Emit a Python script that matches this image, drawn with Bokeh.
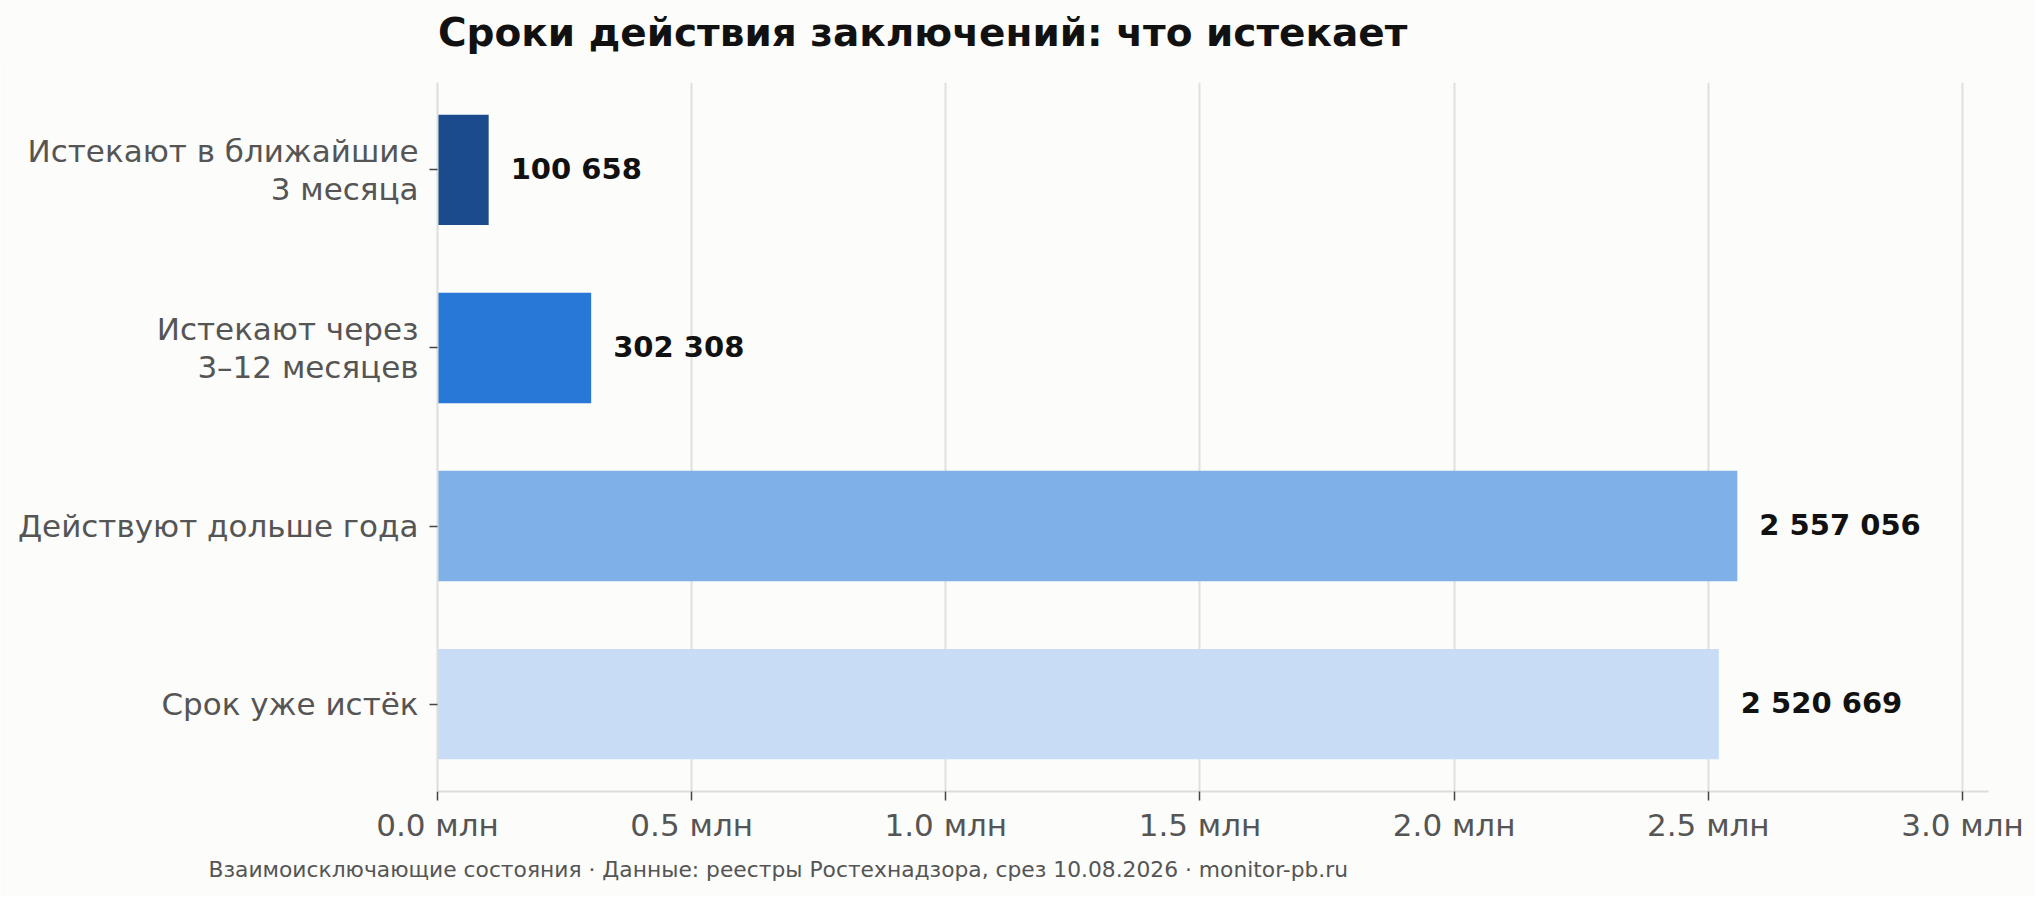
from bokeh.plotting import figure
from bokeh.layouts import column
from bokeh.models import (ColumnDataSource, Range1d, FixedTicker, CustomJSTickFormatter,
                          Title, Div)
from bokeh.core.properties import value
from bokeh.embed import file_html
from bokeh.resources import INLINE

# Data (bottom to top)
categories = ["Срок уже истёк", "Действуют дольше года",
              "Истекают через\n3–12 месяцев", "Истекают в ближайшие\n3 месяца"]
counts = [2520669, 2557056, 302308, 100658]
colors = ["#c8dcf5", "#7fb0e8", "#2878d7", "#1b4b8d"]
x_ticks = [0, 500000, 1000000, 1500000, 2000000, 2500000, 3000000]
title_text = "Сроки действия заключений: что истекает"
footnote_text = "Взаимоисключающие состояния · Данные: реестры Ростехнадзора, срез 10.08.2026 · monitor-pb.ru"

FONT = "DejaVu Sans"
BG = "#fcfcfa"
W = 2035
HEAD = 60

ys = list(range(len(categories)))
labels = [f"{v:,}".replace(",", " ") for v in counts]
src = ColumnDataSource(dict(y=ys, v=counts, c=colors, lbl=labels))

# Title as a header block above the plot
head = Div(
    text=('<div style="margin:0;padding:13px 0 0 438px;line-height:39px;'
          'font-family:\'DejaVu Sans\';font-size:39px;font-weight:bold;color:#111111;'
          'white-space:nowrap;">' + title_text + '</div>'),
    width=W, height=HEAD,
    styles={"background-color": BG, "margin": "0", "padding": "0", "overflow": "hidden"})

p = figure(width=W, height=896 - HEAD, output_backend="svg", toolbar_location=None,
           x_range=Range1d(0, 3.0512e6), y_range=Range1d(-0.491, 3.491),
           min_border_left=437, min_border_right=47, min_border_top=82 - HEAD,
           min_border_bottom=105,
           background_fill_color=BG, border_fill_color=BG, outline_line_color=None)

p.hbar(y="y", left=0, right="v", height=0.62, fill_color="c", line_color=None, source=src)
p.text(x="v", y="y", text="lbl", x_offset=22, y_offset=-1, text_baseline="middle",
       text_align="left", text_font=value(FONT), text_font_style="bold",
       text_font_size="29px", text_color="#111111", source=src)

# Footnote
foot = Title(text=footnote_text, align="left", offset=-229, text_font=FONT,
             text_font_size="21.8px", text_font_style="normal",
             text_color="#555555", standoff=18)
p.add_layout(foot, "below")

# Axes
xa = p.xaxis[0]
xa.ticker = FixedTicker(ticks=x_ticks)
xa.formatter = CustomJSTickFormatter(code="return (tick/1e6).toFixed(1) + ' млн';")
xa.major_label_text_font = FONT
xa.major_label_text_font_size = "31px"
xa.major_label_text_color = "#555555"
xa.axis_line_color = "#dddddd"
xa.axis_line_width = 2
xa.major_tick_line_color = "#444444"
xa.major_tick_line_width = 1.5
xa.major_tick_out = 9
xa.major_tick_in = 0
xa.minor_tick_line_color = None
xa.major_label_standoff = 6

ya = p.yaxis[0]
ya.ticker = FixedTicker(ticks=ys)
ya.major_label_overrides = {i: c for i, c in zip(ys, categories)}
ya.major_label_text_font = FONT
ya.major_label_text_font_size = "31px"
ya.major_label_text_color = "#555555"
ya.major_label_text_line_height = 1.05
ya.axis_line_color = "#dddddd"
ya.axis_line_width = 2
ya.major_tick_line_color = "#444444"
ya.major_tick_line_width = 1.5
ya.major_tick_out = 8
ya.major_tick_in = 0
ya.minor_tick_line_color = None
ya.major_label_standoff = 11

p.xgrid.grid_line_color = "#e0e0e0"
p.xgrid.grid_line_width = 2
p.ygrid.grid_line_color = None

layout = column(head, p, spacing=0)

open("out.html", "w").write(file_html(layout, INLINE))
